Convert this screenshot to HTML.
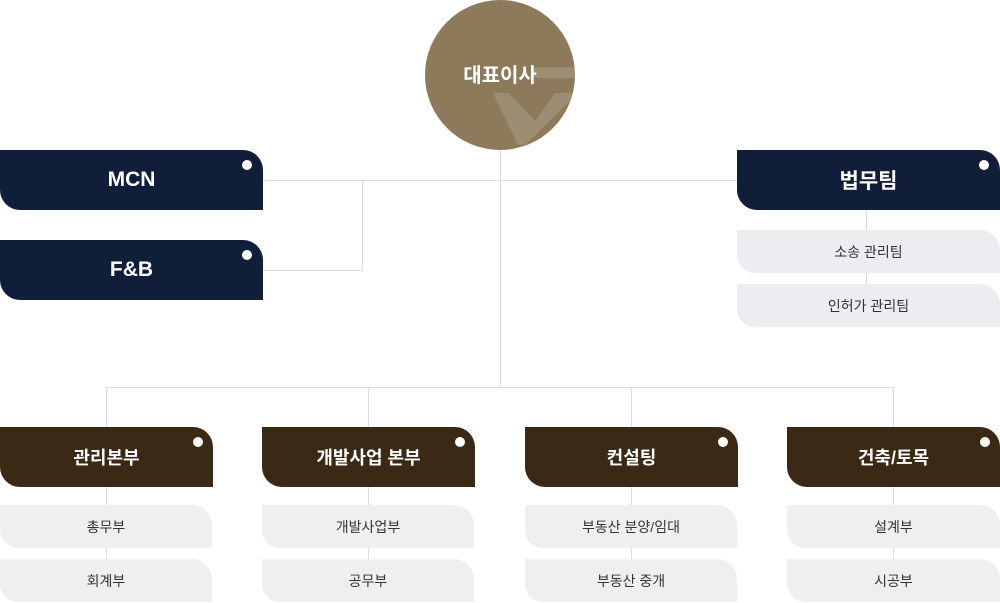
<!DOCTYPE html>
<html><head><meta charset="utf-8">
<style>
*{margin:0;padding:0;box-sizing:border-box}
html,body{width:1000px;height:603px;background:#fff;overflow:hidden}
body{position:relative;font-family:"Liberation Sans","Noto Sans CJK KR",sans-serif}
.l{position:absolute;background:#dcdcdc}
.b{position:absolute;display:flex;align-items:center;justify-content:center;color:#fff;font-weight:bold;border-radius:0 20px 0 20px}
.navy{background:#101e3a;height:60px;font-size:21px}
.brown{background:#3a2915;height:60px;font-size:18px}
.dot{position:absolute;width:10px;height:10px;border-radius:50%;background:#fff}
.s{position:absolute;display:flex;align-items:center;justify-content:center;color:#333;font-size:14px;height:43px;border-radius:0 20px 0 18px;background:#efefef}
.g{background:#ecedf0}
</style></head><body>
<!-- lines -->
<div class="l" style="left:263px;top:180px;width:474px;height:1px"></div>
<div class="l" style="left:263px;top:270px;width:100px;height:1px"></div>
<div class="l" style="left:362px;top:180px;width:1px;height:91px"></div>
<div class="l" style="left:500px;top:140px;width:1px;height:247px"></div>
<div class="l" style="left:106px;top:387px;width:788px;height:1px"></div>
<div class="l" style="left:106px;top:387px;width:1px;height:200px"></div>
<div class="l" style="left:368px;top:387px;width:1px;height:200px"></div>
<div class="l" style="left:631px;top:387px;width:1px;height:200px"></div>
<div class="l" style="left:893px;top:387px;width:1px;height:200px"></div>
<div class="l" style="left:866px;top:205px;width:1px;height:90px"></div>

<!-- circle -->
<svg style="position:absolute;left:425px;top:0" width="150" height="150" viewBox="425 0 150 150">
<defs><clipPath id="c"><circle cx="500" cy="75" r="75"/></clipPath></defs>
<circle cx="500" cy="75" r="75" fill="#8c7a5b"/>
<g clip-path="url(#c)" fill="#fff" fill-opacity="0.15">
<rect x="534" y="67" width="50" height="11"/>
<path fill-rule="evenodd" d="M493,93 L578,93 L525,145 L518,145 Z M509,93 L555,93 L535,121 Z"/>
</g>
<text x="500" y="82" text-anchor="middle" fill="#fff" font-size="20" font-weight="bold" font-family="Liberation Sans, Noto Sans CJK KR, sans-serif">대표이사</text>
</svg>

<!-- left top -->
<div class="b navy" style="left:0;top:150px;width:263px">MCN<div class="dot" style="left:242px;top:10px"></div></div>
<div class="b navy" style="left:0;top:240px;width:263px">F&amp;B<div class="dot" style="left:242px;top:10px"></div></div>

<!-- legal -->
<div class="b navy" style="left:737px;top:150px;width:263px">법무팀<div class="dot" style="left:242px;top:10px"></div></div>
<div class="s g" style="left:737px;top:230px;width:263px">소송 관리팀</div>
<div class="s g" style="left:737px;top:284px;width:263px">인허가 관리팀</div>

<!-- bottom -->
<div class="b brown" style="left:0;top:427px;width:213px">관리본부<div class="dot" style="left:193px;top:10px"></div></div>
<div class="s" style="left:0;top:505px;width:212px">총무부</div>
<div class="s" style="left:0;top:559px;width:212px">회계부</div>

<div class="b brown" style="left:262px;top:427px;width:213px">개발사업 본부<div class="dot" style="left:193px;top:10px"></div></div>
<div class="s" style="left:262px;top:505px;width:212px">개발사업부</div>
<div class="s" style="left:262px;top:559px;width:212px">공무부</div>

<div class="b brown" style="left:525px;top:427px;width:213px">컨설팅<div class="dot" style="left:193px;top:10px"></div></div>
<div class="s" style="left:525px;top:505px;width:212px">부동산 분양/임대</div>
<div class="s" style="left:525px;top:559px;width:212px">부동산 중개</div>

<div class="b brown" style="left:787px;top:427px;width:213px">건축/토목<div class="dot" style="left:193px;top:10px"></div></div>
<div class="s" style="left:787px;top:505px;width:213px">설계부</div>
<div class="s" style="left:787px;top:559px;width:213px">시공부</div>
</body></html>
